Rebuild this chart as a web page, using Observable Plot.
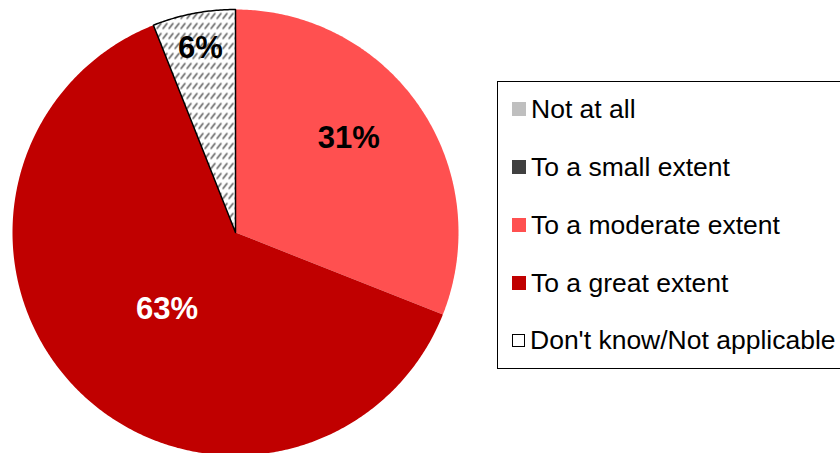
<!DOCTYPE html>
<html>
<head>
<meta charset="utf-8">
<script src="https://cdn.jsdelivr.net/npm/d3@7"></script>
<script src="https://cdn.jsdelivr.net/npm/@observablehq/plot@0.6"></script>
<style>
  html, body { margin: 0; padding: 0; background: #fff; overflow: hidden; }
  #wrap { position: relative; width: 840px; height: 453px; overflow: hidden; font-family: "Liberation Sans", Arial, sans-serif; }
  #chart { position: absolute; left: 0; top: 0; }
  #legend { position: absolute; left: 497px; top: 81px; width: 420px; height: 288px; border: 1.5px solid #000; border-right: none; box-sizing: border-box; }
  .item { position: absolute; left: 14px; height: 30px; display: flex; align-items: center; font-size: 26.5px; color: #000; white-space: nowrap; }
  .sw { width: 14px; height: 14px; margin-right: 5px; box-sizing: border-box; }
</style>
</head>
<body>
<svg width="0" height="0" style="position:absolute">
  <defs>
    <pattern id="hatch" patternUnits="userSpaceOnUse" width="6" height="10">
      <rect width="6" height="10" fill="#fff"></rect>
      <line x1="0.5" y1="8" x2="4.5" y2="3" stroke="#555" stroke-width="1.4" stroke-linecap="round"></line>
    </pattern>
  </defs>
</svg>
<div id="wrap">
  <div id="chart"></div>
  <div id="legend"></div>
</div>
<script>
// Data
const categories = ["Not at all", "To a small extent", "To a moderate extent", "To a great extent", "Don't know/Not applicable"];
const values = [0, 0, 31, 63, 6];
const labels = ["", "", "31%", "63%", "6%"];

// Styles
const colors = ["#BFBFBF", "#404040", "#FF5050", "#C00000", "url(#hatch)"];
const swatch = ["#BFBFBF", "#404040", "#FF5050", "#C00000", "#fff"];
const strokes = ["none", "none", "none", "none", "#000"];
const labelColors = ["#000", "#000", "#000", "#fff", "#000"];
const labelRadius = [0, 0, 0.66, 0.46, 0.84];
const labelAngleShift = [0, 0, -5.5, -3.2, 0]; // degrees

const table = categories.map((c, i) => ({cat: c, value: values[i], i}));
const arcs = d3.pie().sort(null).value(d => d.value)(table);

// Build polygon points for each slice (unit circle, angle clockwise from top)
const slicePoints = arcs.filter(a => a.value > 0).map(a => {
  const pts = [{x: 0, y: 0}];
  const n = Math.max(2, Math.ceil((a.endAngle - a.startAngle) / (2 * Math.PI) * 720));
  for (let k = 0; k <= n; k++) {
    const t = a.startAngle + (a.endAngle - a.startAngle) * k / n;
    pts.push({x: Math.sin(t), y: Math.cos(t)});
  }
  pts.push({x: 0, y: 0});
  return {i: a.data.i, pts};
});

const labelData = arcs.filter(a => a.value > 0).map(a => {
  const m = (a.startAngle + a.endAngle) / 2 + labelAngleShift[a.data.i] * Math.PI / 180;
  const r = labelRadius[a.data.i];
  return {x: r * Math.sin(m), y: r * Math.cos(m), text: labels[a.data.i], color: labelColors[a.data.i]};
});

const marks = slicePoints.map(s =>
  Plot.line(s.pts, {x: "x", y: "y", fill: colors[s.i], stroke: strokes[s.i], strokeWidth: 1.5, curve: "linear"})
);
marks.push(Plot.text(labelData, {x: "x", y: "y", text: "text", fill: "color", fontSize: 31, fontWeight: "bold", fontFamily: "Liberation Sans, Arial, sans-serif"}));

const plot = Plot.plot({
  width: 840,
  height: 453,
  margin: 0,
  x: {domain: [-1, 1], range: [12, 458], axis: null},
  y: {domain: [-1, 1], range: [455, 9], axis: null},
  style: {background: "transparent", overflow: "visible"},
  marks
});
document.getElementById("chart").appendChild(plot);

// Legend
const legend = document.getElementById("legend");
const tops = [12, 70, 128, 186, 243];
categories.forEach((c, i) => {
  const it = document.createElement("div");
  it.className = "item";
  it.style.top = tops[i] + "px";
  const sw = document.createElement("div");
  sw.className = "sw";
  sw.style.background = swatch[i];
  if (i === 4) { sw.style.border = "1.5px solid #000"; sw.style.width = "13px"; sw.style.height = "13px"; }
  it.appendChild(sw);
  const tx = document.createElement("span");
  tx.textContent = c;
  it.appendChild(tx);
  legend.appendChild(it);
});
</script>
</body>
</html>
